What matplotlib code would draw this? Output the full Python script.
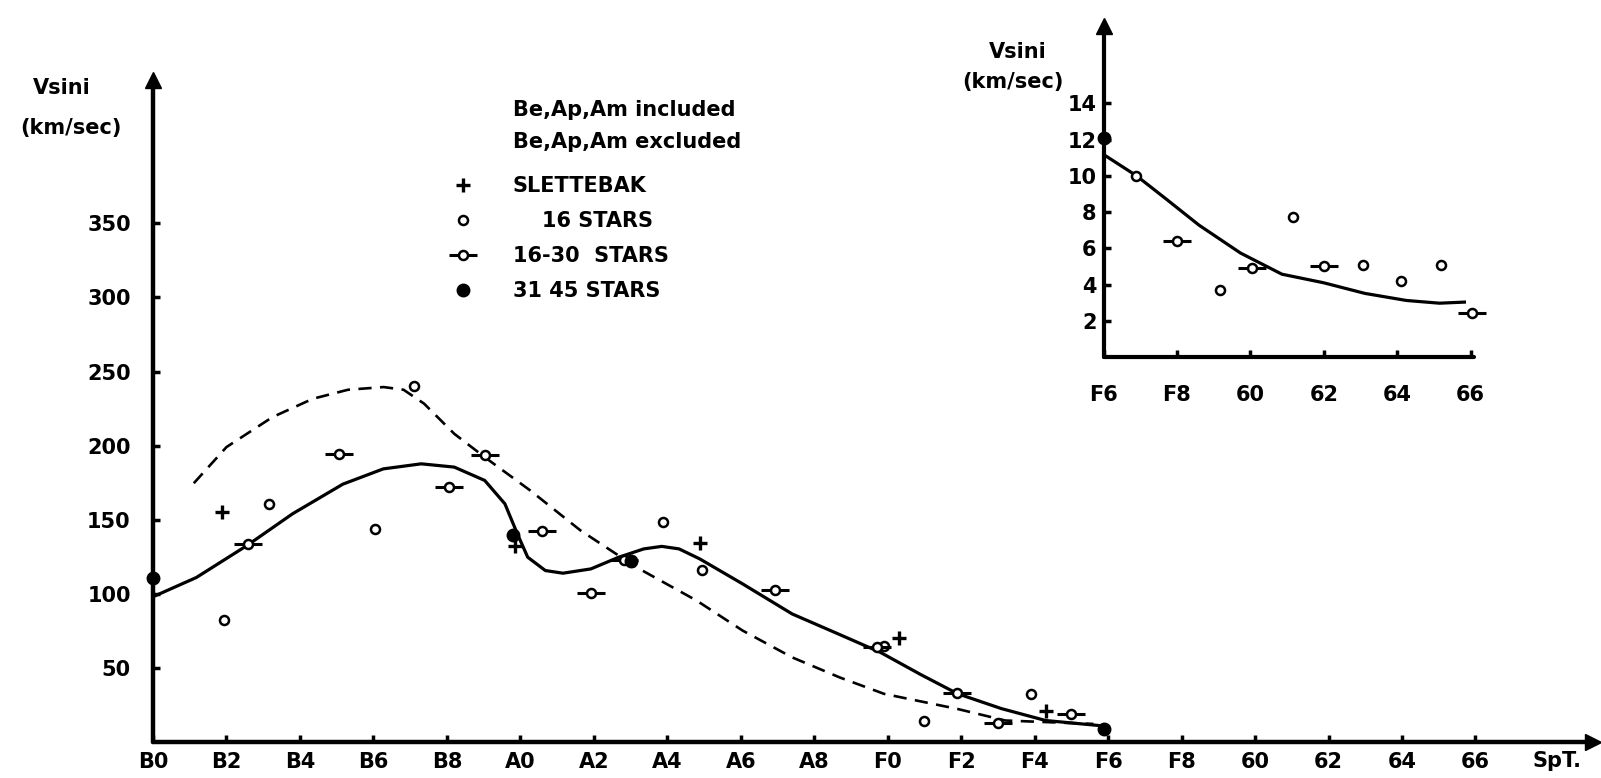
import matplotlib
matplotlib.use("Agg")
import matplotlib.pyplot as plt
from matplotlib.lines import Line2D
from matplotlib.legend_handler import HandlerTuple

plt.rcParams['font.family'] = ['DejaVu Sans']
plt.rcParams['font.weight'] = 'bold'

# ---------------- data (spectral subtype index: B0=0, A0=10, F0=20, G0=30) -------------
main_xticks = [0, 2, 4, 6, 8, 10, 12, 14, 16, 18, 20, 22, 24, 26, 28, 30, 32, 34, 36]
main_xlabels = ["B0", "B2", "B4", "B6", "B8", "A0", "A2", "A4", "A6", "A8",
                "F0", "F2", "F4", "F6", "F8", "60", "62", "64", "66"]
main_yticks = [50, 100, 150, 200, 250, 300, 350]

solid_x = [0, 1.18, 2.56, 3.8, 5.17, 6.27, 7.3, 8.2, 9.03, 9.58, 9.92, 10.2, 10.68,
           11.16, 11.92, 12.68, 13.36, 13.85, 14.32, 14.88, 16.05, 17.4, 18.6, 19.8,
           20.9, 21.9, 23.1, 24.3, 25.8]
solid_y = [98, 111, 132.6, 154, 174, 184.3, 187.7, 185.5, 176.5, 160.7, 140.4, 124.7,
           115.7, 113.9, 116.8, 124.7, 130.3, 132, 130.3, 123.6, 106.7, 86.4, 73.5, 60.5,
           45.5, 32.6, 22.5, 14.5, 11]

dashed_x = [1.11, 2.0, 3.25, 4.35, 5.31, 6.28, 6.82, 7.38, 8.2, 9.03, 10.27, 11.64,
            13.16, 14.8, 16.05, 17.4, 18.7, 19.9, 21.9, 23.2, 25.6]
dashed_y = [174.6, 199, 219.2, 231.6, 237.7, 239.5, 237.7, 228.3, 208, 192.2, 169.7,
            142.7, 117.9, 95.4, 75.2, 57.1, 43.5, 32.5, 22.3, 14.5, 12.2]

slettebak_x = [1.87, 9.85, 14.88, 20.3, 24.3]
slettebak_y = [155.5, 132.5, 134.4, 70, 21]

s16_x = [1.94, 3.15, 6.03, 7.1, 13.87, 14.95, 19.9, 21.0, 23.9]
s16_y = [82.4, 160.7, 143.4, 240, 148.3, 116, 65, 14.5, 32.5]

s16_30_x = [2.58, 5.06, 8.06, 9.05, 10.58, 11.92, 12.82, 16.94, 19.7, 21.9, 23.0, 25.0]
s16_30_y = [133.7, 194, 172.4, 193.4, 142.2, 100.6, 122.9, 102.6, 64, 33, 13, 19]

s31_45_x = [0, 9.79, 13.02, 25.9]
s31_45_y = [111, 140, 122, 9]

# inset (F6 .. G6)
inset_xticks = [26, 28, 30, 32, 34, 36]
inset_xlabels = ["F6", "F8", "60", "62", "64", "66"]
inset_yticks = [2, 4, 6, 8, 10, 12, 14]

inset_curve_x = [26, 26.9, 27.7, 28.6, 29.73, 30.86, 31.99, 33.12, 34.25, 35.15, 35.83]
inset_curve_y = [11.18, 10.0, 8.73, 7.28, 5.74, 4.57, 4.1, 3.51, 3.12, 2.97, 3.03]

inset_s16_x = [26.88, 29.16, 31.15, 33.08, 34.1, 35.2]
inset_s16_y = [10.0, 3.7, 7.7, 5.1, 4.2, 5.1]
inset_s16_30_x = [28.0, 30.05, 32.0, 36.05]
inset_s16_30_y = [6.4, 4.9, 5.0, 2.45]
inset_s31_45_x = [26]
inset_s31_45_y = [12.1]

# ---------------- figure ----------------
W, H = 1601, 778
fig = plt.figure(figsize=(W / 100, H / 100), dpi=100)


def rect(l, t, r, b):
    return [l / W, 1 - b / H, (r - l) / W, (b - t) / H]


FS = 15
K = 'black'


def style_axes(ax, lw=3.0):
    for s in ['top', 'right']:
        ax.spines[s].set_visible(False)
    for s in ['left', 'bottom']:
        ax.spines[s].set_linewidth(lw)
        ax.spines[s].set_capstyle('round')


def markers(ax, x16, y16, x1630, y1630, x3145, y3145, xs=None, ys=None):
    if xs is not None:
        ax.plot(xs, ys, ls='none', marker='+', ms=10, mew=2.4, color=K, clip_on=False, zorder=5)
    ax.plot(x16, y16, ls='none', marker='o', ms=6.5, mew=1.8, mfc='white', mec=K,
            clip_on=False, zorder=5)
    ax.plot(x1630, y1630, ls='none', marker='_', ms=20, mew=2.2, color=K, clip_on=False, zorder=5)
    ax.plot(x1630, y1630, ls='none', marker='o', ms=6.5, mew=1.8, mfc='white', mec=K,
            clip_on=False, zorder=6)
    ax.plot(x3145, y3145, ls='none', marker='o', ms=9, color=K, clip_on=False, zorder=6)


# main axes (0 at y=742 px, 1.482 px per km/s; 36.75 px per subclass)
ax = fig.add_axes(rect(153, 80, 1593, 742))
ax.set_xlim(0, 39.2)
ax.set_ylim(0, 446.7)
style_axes(ax, 3.2)
ax.plot(solid_x, solid_y, color=K, lw=2.3, solid_capstyle='round', solid_joinstyle='round',
        zorder=3)
ax.plot(dashed_x, dashed_y, color=K, lw=1.9, ls=(0, (5, 3.2)), zorder=3)
markers(ax, s16_x, s16_y, s16_30_x, s16_30_y, s31_45_x, s31_45_y, slettebak_x, slettebak_y)

ax.set_xticks(main_xticks)
ax.set_xticklabels(main_xlabels)
ax.set_yticks(main_yticks)
ax.set_yticklabels([str(v) for v in main_yticks])
ax.tick_params(axis='both', direction='in', length=5, width=2.5, labelsize=FS)
ax.tick_params(axis='x', pad=7.5)
ax.tick_params(axis='y', pad=16)
ax.plot([0], [1], marker='^', ms=12, color=K, transform=ax.transAxes, clip_on=False)
ax.plot([1], [0], marker='>', ms=11, color=K, transform=ax.transAxes, clip_on=False)
fig.text(1557 / W, 1 - 761 / H, "SpT.", ha='center', va='center', fontsize=FS,
         fontweight='bold')

fig.text(62 / W, 1 - 88 / H, "Vsini", ha='center', va='center', fontsize=FS, fontweight='bold')
fig.text(71 / W, 1 - 128 / H, "(km/sec)", ha='center', va='center', fontsize=FS,
         fontweight='bold')

# legend texts
fig.text(513 / W, 1 - 110 / H, "Be,Ap,Am included", ha='left', va='center', fontsize=FS,
         fontweight='bold')
fig.text(513 / W, 1 - 142 / H, "Be,Ap,Am excluded", ha='left', va='center', fontsize=FS,
         fontweight='bold')

h_plus = Line2D([], [], ls='none', marker='+', ms=10, mew=2.4, color=K)
h_16 = Line2D([], [], ls='none', marker='o', ms=6.5, mew=1.8, mfc='white', mec=K)
h_bar = Line2D([], [], ls='none', marker='_', ms=20, mew=2.2, color=K)
h_bo = Line2D([], [], ls='none', marker='o', ms=6.5, mew=1.8, mfc='white', mec=K)
h_31 = Line2D([], [], ls='none', marker='o', ms=9, color=K)
leg = fig.legend([h_plus, h_16, (h_bar, h_bo), h_31],
                 ["SLETTEBAK", "    16 STARS", "16-30  STARS", "31 45 STARS"],
                 handler_map={tuple: HandlerTuple(ndivide=1, pad=0)},
                 loc='upper left', bbox_to_anchor=(446 / W, 1 - 176 / H),
                 frameon=False, fontsize=FS, handlelength=1.6, handletextpad=1.6,
                 labelspacing=0.72, borderpad=0, borderaxespad=0)
for t in leg.get_texts():
    t.set_fontweight('bold')

# inset axes
ax2 = fig.add_axes(rect(1103.5, 26, 1473.6, 357))
ax2.set_xlim(26, 36.08)
ax2.set_ylim(0, 18.27)
style_axes(ax2, 3.0)
ax2.plot(inset_curve_x, inset_curve_y, color=K, lw=2.3, solid_joinstyle='round', zorder=3)
markers(ax2, inset_s16_x, inset_s16_y, inset_s16_30_x, inset_s16_30_y,
        inset_s31_45_x, inset_s31_45_y)
ax2.set_xticks(inset_xticks)
ax2.set_xticklabels(inset_xlabels)
ax2.set_yticks(inset_yticks)
ax2.set_yticklabels([str(v) for v in inset_yticks])
ax2.tick_params(axis='both', direction='in', length=5, width=2.5, labelsize=FS)
ax2.tick_params(axis='x', pad=20)
ax2.tick_params(axis='y', pad=5)
ax2.plot([0], [1], marker='^', ms=12, color=K, transform=ax2.transAxes, clip_on=False)
fig.text(1018 / W, 1 - 52 / H, "Vsini", ha='center', va='center', fontsize=FS,
         fontweight='bold')
fig.text(1013 / W, 1 - 82 / H, "(km/sec)", ha='center', va='center', fontsize=FS,
         fontweight='bold')

fig.savefig("out.png", dpi=100, facecolor='white')
